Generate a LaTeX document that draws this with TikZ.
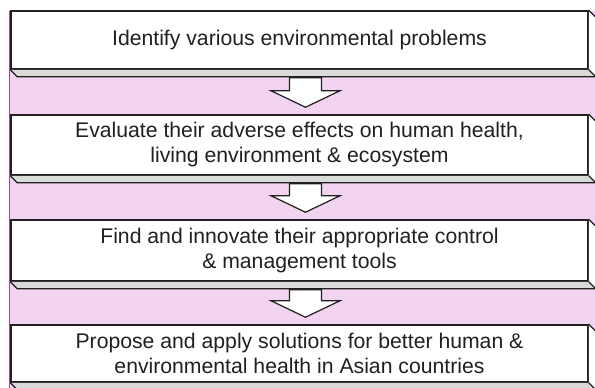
\documentclass[tikz,border=0pt]{standalone}
\usepackage{fontspec}
\setmainfont{Liberation Sans}
\usetikzlibrary{calc}
\definecolor{bandpink}{HTML}{F2D3F0}
\definecolor{bandedge}{HTML}{9C4A9A}
\definecolor{facegray}{HTML}{D8DBD8}
\definecolor{ink}{HTML}{231F20}
\tikzset{
  stepbox/.style={draw=ink, fill=white, line width=1.5pt, inner sep=0pt,
    minimum width=577pt, align=center, text=ink,
    font=\fontsize{21.2}{25}\selectfont},
  faceline/.style={draw=ink, line width=1.2pt, line join=miter},
  blockarrow/.style={draw=ink, fill=white, line width=1.2pt, line join=miter},
}
% bottom and right faces of a step box, seen in depth (7,7)
\newcommand{\boxfaces}[1]{%
  \fill[white] (#1.north east) -- ++(7,7) -- ($(#1.south east)+(7,7)$)
    -- (#1.south east) -- cycle;
  \fill[facegray] (#1.south west) -- ++(7,7) -- ($(#1.south east)+(7,7)$)
    -- (#1.south east) -- cycle;
  \path[faceline] (#1.north east) -- ++(7,7);
  \path[faceline] (#1.south west) -- ++(7,7) -- ($(#1.south east)+(7,7)$)
    -- (#1.south east);
}
\newcommand{\steparrow}[2]{%
  \coordinate (#1-top) at ($(#1.south)+(6,8)$);
  \coordinate (#2-tip) at ($(#2.north)+(6,-7)$);
  \path[blockarrow] let \p1=(#1-top), \p2=(#2-tip) in
    (\x1-16pt,\y1) -- (\x1-16pt,\y2+16.5pt) -- (\x1-34.5pt,\y2+16.5pt)
    -- (\x2,\y2) -- (\x1+34.5pt,\y2+16.5pt) -- (\x1+16pt,\y2+16.5pt)
    -- (\x1+16pt,\y1) -- cycle;
}
\begin{document}
\begin{tikzpicture}[x=1pt, y=-1pt]
  \useasboundingbox (0,0) rectangle (595,388);
  % pink band behind the steps
  \fill[bandpink] (9.5,10.5) rectangle (605,400);
  \draw[bandedge, line width=1pt] (9.5,10.5) -- (9.5,400);

  % the four steps
  \node[stepbox, minimum height=58pt] (s1) at (299.5,40)
    {Identify various environmental problems};
  \node[stepbox, minimum height=60pt] (s2) at (299.5,145)
    {Evaluate their adverse effects on human health,\\ living environment \& ecosystem};
  \node[stepbox, minimum height=61pt] (s3) at (299.5,250.5)
    {Find and innovate their appropriate control\\ \& management tools};
  \node[stepbox, minimum height=57pt] (s4) at (299.5,353.5)
    {Propose and apply solutions for better human \&\\ environmental health in Asian countries};

  \boxfaces{s1}
  \boxfaces{s2}
  \boxfaces{s3}
  \boxfaces{s4}

  \steparrow{s1}{s2}
  \steparrow{s2}{s3}
  \steparrow{s3}{s4}
\end{tikzpicture}
\end{document}
